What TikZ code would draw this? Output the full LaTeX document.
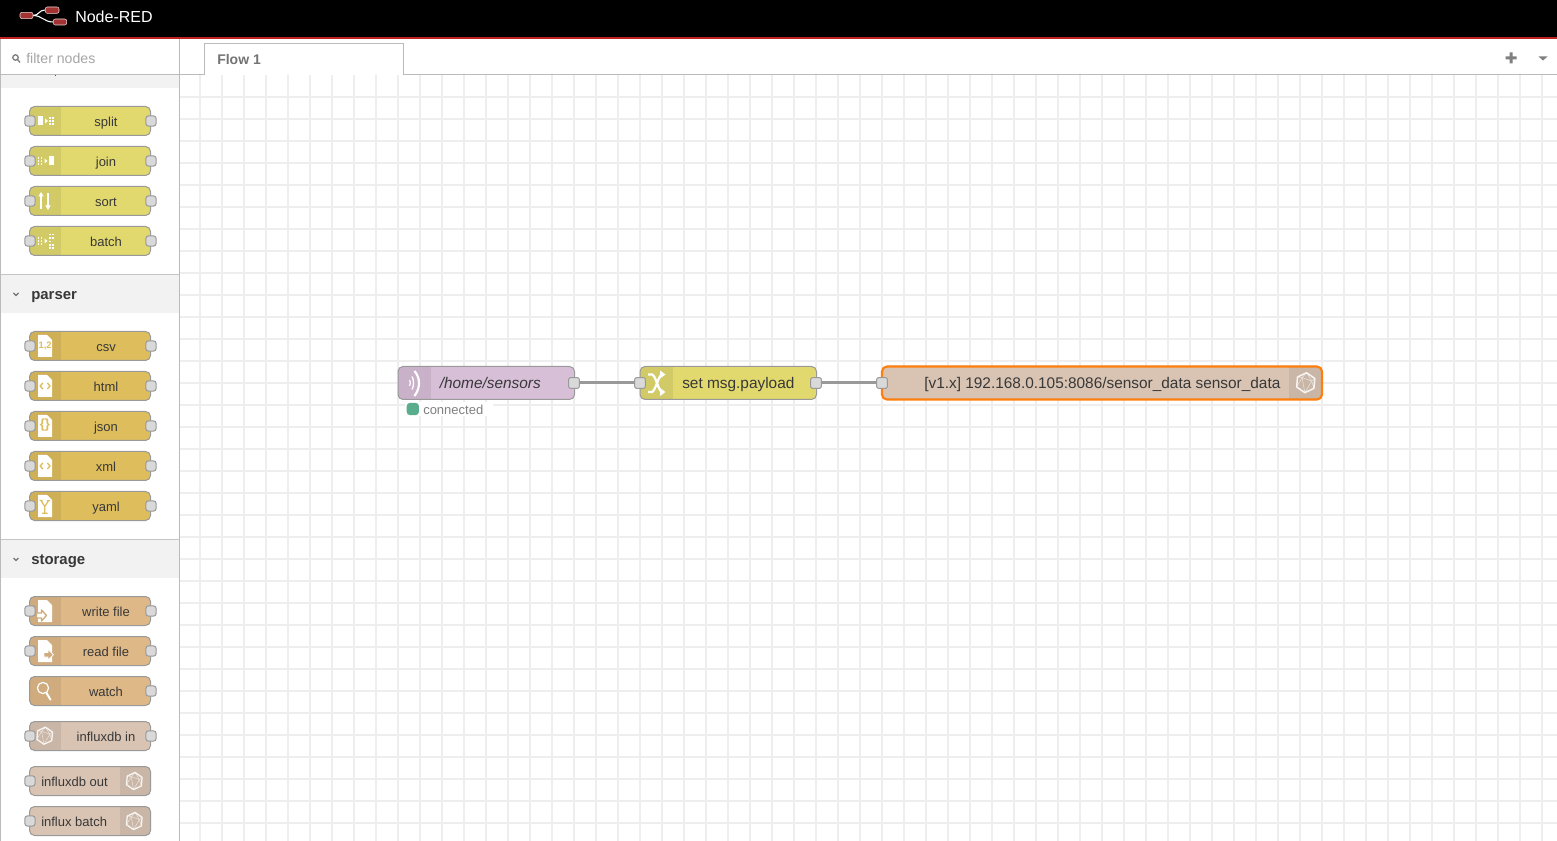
\documentclass[tikz,border=0pt]{standalone}
\usepackage{fontspec}
\setmainfont{Liberation Sans}
\usetikzlibrary{arrows.meta}
\definecolor{fnc}{HTML}{E2D96E}
\definecolor{fncd}{HTML}{D2CA66}
\definecolor{prs}{HTML}{DEBD5C}
\definecolor{prsd}{HTML}{CFB056}
\definecolor{sto}{HTML}{DEB887}
\definecolor{stod}{HTML}{CFAB7D}
\definecolor{inf}{HTML}{D9C4B3}
\definecolor{infd}{HTML}{CAB6A6}
\definecolor{mqt}{HTML}{D8BFD8}
\definecolor{mqtd}{HTML}{C9B1C9}
\definecolor{bord}{HTML}{999999}
\definecolor{edgec}{HTML}{BBBBBB}
\definecolor{gridc}{HTML}{EEEEEE}
\definecolor{logor}{HTML}{A33333}
\definecolor{redline}{HTML}{C02020}
\definecolor{statc}{HTML}{5AAD8C}
\definecolor{orng}{HTML}{FF7F0E}
\tikzset{
  gridl/.style={draw=gridc,line width=1.5pt},
  bodyb/.style={draw=bord,line width=0.75pt,rounded corners=3.75pt,inner sep=0pt,outer sep=0pt},
  portbox/.style={draw=bord,fill=white!85!black,line width=0.75pt,rounded corners=1.8pt,minimum width=7.6pt,minimum height=7.6pt,inner sep=0pt,outer sep=0pt},
  wportbox/.style={portbox,minimum width=8.2pt,minimum height=8.2pt},
  plabel/.style={font=\fontsize{9.75pt}{11pt}\selectfont,text=black!78,inner sep=0pt},
  wlabel/.style={font=\fontsize{11.55pt}{13pt}\selectfont,text=black!78,inner sep=0pt,anchor=base west},
  wire/.style={draw=bord,line width=2.25pt},
  cathead/.style={font=\bfseries\fontsize{11.2pt}{13pt}\selectfont,text=black!78,inner sep=0pt,anchor=base west},
  ifx/.style={draw=white,draw opacity=.85,line join=round},
}
% body: name x0 y0 x1 y1 fill sep0 sep1 dark
\newcommand\bodybox[9]{%
  \fill[#6,rounded corners=3.75pt] (#2,#3) rectangle (#4,#5);
  \begin{scope}\clip[rounded corners=3.75pt] (#2,#3) rectangle (#4,#5);
    \fill[#9] (#7,#3) rectangle (#8,#5);
  \end{scope}
  \node[bodyb,minimum width={((#4)-(#2))*0.75pt},minimum height={((#5)-(#3))*0.75pt}] (#1) at ({((#2)+(#4))/2},{((#3)+(#5))/2}) {};
}
\newcommand\palL[5]{% name y fill dark label
  \bodybox{#1}{29.5}{#2-14.5}{150.5}{#2+14.5}{#3}{29.5}{60.5}{#4}
  \node[plabel,anchor=base] (#1-t) at (106,#2+5.8) {#5};
}
\newcommand\palR[5]{% label left, icon right
  \bodybox{#1}{29.5}{#2-14.5}{150.5}{#2+14.5}{#3}{119.5}{150.5}{#4}
  \node[plabel,anchor=base west] (#1-t) at (41,#2+5.8) {#5};
}
\newcommand\pin[2]{\node[portbox] (#1-i) at (30,#2) {};}
\newcommand\pout[2]{\node[portbox] (#1-o) at (151,#2) {};}
\newcommand\dotgrid[3]{%
  \foreach \dx in {0,#3}{\foreach \dy in {-#3,0,#3}{\fill[white] (#1+\dx-.9,#2+\dy-.9) rectangle (#1+\dx+.9,#2+\dy+.9);}}}
\newcommand\filebody[3]{% x y col
  \fill[white] (#1,#2-11) -- (#1+9,#2-11) -- (#1+14,#2-6) -- (#1+14,#2+11) -- (#1,#2+11) -- cycle;
}
\newcommand\influxicon[4]{% x y r lw(px)
  \begin{scope}[shift={(#1,#2)},x=#3*0.75pt,y=-#3*0.75pt]
    \draw[ifx,line width=#4*0.75pt] (95:1)--(35:1)--(-25:1)--(-85:1)--(-145:1)--(155:1)--cycle;
    \draw[ifx,line width=.4pt,draw opacity=.6] (95:1)--(-15:.62)--(-125:.62)--cycle (-15:.62)--(35:1) (-15:.62)--(-25:1) (-15:.62)--(-85:1) (-125:.62)--(-85:1) (-125:.62)--(-145:1) (-125:.62)--(155:1);
  \end{scope}
}
\begin{document}
\begin{tikzpicture}[x=0.75pt,y=-0.75pt]
\useasboundingbox (0,0) rectangle (1557,841);
\fill[white] (0,0) rectangle (1557,841);
% workspace grid
\foreach \k in {0,...,61}{\draw[gridl] ({200+22*\k},75) -- ({200+22*\k},841);}
\foreach \k in {0,...,33}{\draw[gridl] (180,{96.8+22*\k}) -- (1557,{96.8+22*\k});}
% header
\fill[black] (0,0) rectangle (1557,37.2);
\fill[redline] (0,37.2) rectangle (1557,39);
\fill[white] (0,39) rectangle (1557,74.5);
% logo
\draw[white,line width=.8pt] (33,15.5) .. controls (39,15.5) and (39,10) .. (45,10);
\draw[white,line width=.8pt] (33,15.5) .. controls (42,15.5) and (44,22) .. (53,22);
\foreach \a/\b/\c/\d in {20/12.3/33/18.7,45.3/7/59/13.3,53.3/19/66.7/25}{
  \draw[white!80!logor,fill=logor,rounded corners=1.5pt,line width=.4pt] (\a,\b) rectangle (\c,\d);
}
\node[anchor=west,text=white,inner sep=0pt,font=\fontsize{12pt}{14pt}\selectfont] (title) at (75,16.3) {Node-RED};
% filter box
\draw[black!50,line width=1pt] (15.5,57.5) circle[radius=2.7] (17.7,59.7)--(20,62.5);
\node[anchor=west,text=black!35,inner sep=0pt,font=\fontsize{10.6pt}{13pt}\selectfont] (filter) at (26,58) {filter nodes};
% tab strip
\draw[edgec,line width=.75pt] (180,74.6) -- (1557,74.6);
\draw[edgec,line width=.75pt,fill=white] (204.5,75) -- (204.5,43.5) -- (403.5,43.5) -- (403.5,75);
\fill[white] (205,74) rectangle (403,75.5);
\node[anchor=west,text=black!55,inner sep=0pt,font=\bfseries\fontsize{10.5pt}{13pt}\selectfont] (flow) at (217,59.5) {Flow 1};
\fill[black!50] (1505.5,56.5) rectangle (1516.5,59.5) (1509.5,52.5) rectangle (1512.5,63.5);
\fill[black!50] (1538.5,56.5) -- (1547.5,56.5) -- (1543,60.5) -- cycle;
% palette
\fill[white] (0,75) rectangle (179.5,841);
\fill[black!5] (1,75) rectangle (179,88);
\fill[black!70] (54.5,75) rectangle (56,76.5);
\fill[black!5] (1,275) rectangle (179,313);
\fill[black!5] (1,540) rectangle (179,578);
\draw[edgec!85!white,line width=.75pt] (1,274.5)--(179,274.5) (1,539.5)--(179,539.5);
\draw[black!55,line width=.8pt] (13.5,293) -- (16,295.5) -- (18.5,293);
\draw[black!55,line width=.8pt] (13.5,558) -- (16,560.5) -- (18.5,558);
\node[cathead] (parserh) at (31,299.6) {parser};
\node[cathead] (storageh) at (31,564.3) {storage};
\draw[edgec,line width=.75pt] (0.6,39)--(0.6,841);
\draw[edgec,line width=.75pt] (179.5,39)--(179.5,841);
\draw[edgec,line width=.75pt] (0,74.6)--(180,74.6);
% sequence
\palL{split}{121}{fnc}{fncd}{split}\pin{split}{121}\pout{split}{121}
\fill[white] (38.3,116.5) rectangle (43.3,125.5);
\fill[white] (45,118.5)--(45,123.5)--(48,121)--cycle;
\dotgrid{50}{121}{3}
\palL{join}{161}{fnc}{fncd}{join}\pin{join}{161}\pout{join}{161}
\dotgrid{38.5}{161}{3}
\fill[white] (44.5,158.5)--(44.5,163.5)--(47.5,161)--cycle;
\fill[white] (49,156.5) rectangle (54,165.5);
\palL{sort}{201}{fnc}{fncd}{sort}\pin{sort}{201}\pout{sort}{201}
\draw[white,line width=1.2pt] (41,209)--(41,194) (48,193)--(48,208);
\fill[white] (41,192)--(38.3,196.5)--(43.7,196.5)--cycle (48,210)--(45.3,205.5)--(50.7,205.5)--cycle;
\palL{batch}{241}{fnc}{fncd}{batch}\pin{batch}{241}\pout{batch}{241}
\dotgrid{38.5}{241}{3}
\fill[white] (44.5,238.5)--(44.5,243.5)--(47.5,241)--cycle;
\foreach \a/\b in {50/234.5,52.8/234.5,50/238,52.8/238,50/241.5,50/245,52.8/245,50/248,52.8/248}{\fill[white] (\a-.9,\b-.9) rectangle (\a+.9,\b+.9);}
% parser
\palL{csv}{346}{prs}{prsd}{csv}\pin{csv}{346}\pout{csv}{346}
\filebody{38}{346}{prsd}
\node[text=prs,inner sep=0pt,font=\bfseries\fontsize{7pt}{8pt}\selectfont] (csv-ic) at (45.2,345.5) {1,2};
\palL{html}{386}{prs}{prsd}{html}\pin{html}{386}\pout{html}{386}
\filebody{38}{386}{prsd}
\draw[prs,line width=1pt] (42.8,383)--(40.2,386)--(42.8,389) (47.4,383)--(50,386)--(47.4,389);
\palL{json}{426}{prs}{prsd}{json}\pin{json}{426}\pout{json}{426}
\filebody{38}{426}{prsd}
\node[text=prs,inner sep=0pt,font=\bfseries\fontsize{10pt}{11pt}\selectfont] (json-ic) at (45,425) {\{\}};
\palL{xml}{466}{prs}{prsd}{xml}\pin{xml}{466}\pout{xml}{466}
\filebody{38}{466}{prsd}
\draw[prs,line width=1pt] (42.8,463)--(40.2,466)--(42.8,469) (47.4,463)--(50,466)--(47.4,469);
\palL{yaml}{506}{prs}{prsd}{yaml}\pin{yaml}{506}\pout{yaml}{506}
\filebody{38}{506}{prsd}
\draw[prs,line width=.9pt] (41,500.5)--(44.8,506.5)--(48.6,500.5) (39.7,500.5)--(42.6,500.5) (47,500.5)--(50,500.5) (44.8,506.5)--(44.8,513.3) (42,513.3)--(47.6,513.3);
% storage
\palL{writef}{611}{sto}{stod}{write file}\pin{writef}{611}\pout{writef}{611}
\filebody{38}{611}{stod}
\draw[stod,fill=white,line width=1pt,line join=round] (36.5,613)--(41.5,613)--(41.5,610)--(46.5,615.5)--(41.5,621)--(41.5,618)--(36.5,618)--cycle;
\palL{readf}{651}{sto}{stod}{read file}\pin{readf}{651}\pout{readf}{651}
\filebody{38}{651}{stod}
\draw[white,fill=stod,line width=.55pt] (44,652.5)--(48,652.5)--(48,649.5)--(53.5,654.7)--(48,660)--(48,657)--(44,657)--cycle;
\palL{watch}{691}{sto}{stod}{watch}\pout{watch}{691}
\draw[white,line width=.9pt] (43,688) circle[radius=5.6];
\draw[white,line width=1.5pt,line cap=round] (46.5,693)--(50.5,699.7);
\palL{influxin}{736}{inf}{infd}{influxdb in}\pin{influxin}{736}\pout{influxin}{736}
\influxicon{44.7}{735.7}{8.6}{1.3}
\palR{influxout}{781}{inf}{infd}{influxdb out}\pin{influxout}{781}
\influxicon{134.3}{781}{8.6}{1.3}
\palR{influxbatch}{821}{inf}{infd}{influx batch}\pin{influxbatch}{821}
\influxicon{134.3}{821}{8.6}{1.3}
% flow: mqtt
\bodybox{mqtt}{398}{366.5}{574.5}{399.5}{mqt}{398}{430.7}{mqtd}
\node[wlabel,font=\itshape\fontsize{11.55pt}{13pt}\selectfont] (mqtt-t) at (439.5,389) {/home/sensors};
\draw[white,line width=.9pt] (409.5,380) .. controls (410.7,382) and (410.7,384) .. (409.5,386);
\draw[white,line width=1pt] (412,376.5) .. controls (414,380) and (414,386) .. (412,389.5);
\draw[white,line width=1.6pt] (414.5,371) .. controls (420.5,378) and (420.5,388) .. (414.5,396);
% flow: change
\bodybox{change}{640}{366.5}{816.5}{399.5}{fnc}{640}{672.7}{fncd}
\node[wlabel] (change-t) at (682,389) {set msg.payload};
\draw[white,line width=1.7pt] (648,374.5) -- (652,374.5) .. controls (656,376) and (658,390) .. (662,392);
\draw[white,line width=1.7pt] (648,392) -- (652,392) .. controls (656,390) and (658,376) .. (662,374.5);
\fill[white] (660,370.5)--(665.5,374.5)--(660,378.5)--cycle (660,388)--(665.5,392)--(660,396)--cycle;
% flow: influx
\bodybox{influxw}{882}{366.5}{1322}{399.5}{inf}{1289}{1322}{infd}
\draw[draw=orng,line width=1.6pt,rounded corners=3.75pt] (882,366.5) rectangle (1322,399.5);
\node[wlabel] (influxw-t) at (924,389) {[v1.x] 192.168.0.105:8086/sensor\_data sensor\_data};
\influxicon{1305.7}{382.7}{10}{1.5}
% status
\fill[white] (405,402.5) rectangle (493,416.5);
\node[fill=statc,minimum size=9.2pt,inner sep=0pt,rounded corners=2.5pt] (stat) at (412.8,409) {};
\node[anchor=west,text=black!50,inner sep=0pt,font=\fontsize{9.75pt}{11pt}\selectfont] (stat-t) at (423,409.8) {connected};
% ports and wires
\node[wportbox] (mqtt-o) at (574,383) {};
\node[wportbox] (change-i) at (640,383) {};
\node[wportbox] (change-o) at (816,383) {};
\node[wportbox] (influxw-i) at (882,383) {};
\draw[wire] (mqtt-o) -- (change-i);
\draw[wire] (change-o) -- (influxw-i);
\end{tikzpicture}
\end{document}
